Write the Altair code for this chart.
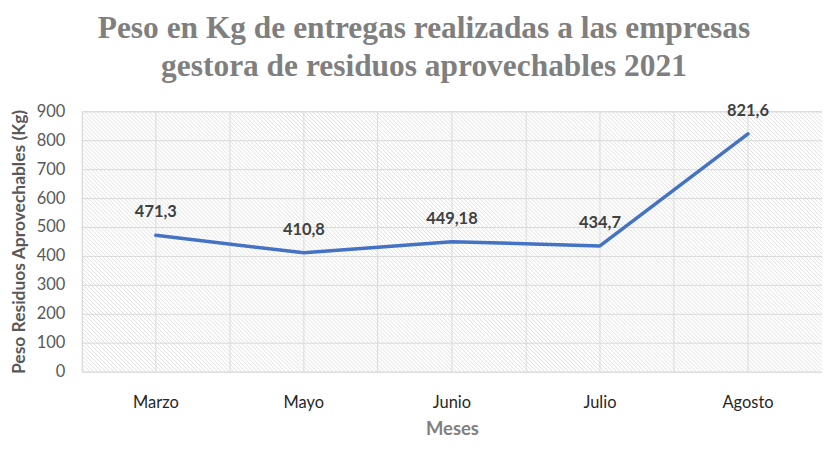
import altair as alt
import pandas as pd
import numpy as np

months = ["Marzo", "Mayo", "Junio", "Julio", "Agosto"]
weights = [471.3, 410.8, 449.18, 434.7, 821.6]
labels = ["471,3", "410,8", "449,18", "434,7", "821,6"]

W, H = 742, 261

df = pd.DataFrame({"Mes": months, "Peso": weights, "Etiqueta": labels})

# decorative diagonal hatch pattern for the plot background (pixel space)
starts = np.arange(-H, W + 4, 4)
hatch = pd.DataFrame({"x1": starts, "x2": starts + H, "y1": 0, "y2": H})

hatch_layer = alt.Chart(hatch).mark_rule(color="#dcdcdc", strokeWidth=0.9, clip=True).encode(
    x=alt.X("x1:Q", scale=None, axis=None),
    x2="x2:Q",
    y=alt.Y("y1:Q", scale=None, axis=None),
    y2="y2:Q",
)

x_enc = alt.X(
    "Mes:N",
    sort=months,
    scale=alt.Scale(type="band", paddingInner=0, paddingOuter=0),
    axis=alt.Axis(
        title="Meses",
        labelAngle=0,
        labelFont="Lato",
        labelFontSize=16.5,
        labelColor="#262626",
        labelPadding=23,
        ticks=False,
        domain=False,
        grid=True,
        gridColor="#d9d9d9",
        bandPosition=0,
        titleFont="Lato",
        titleFontSize=18.5,
        titleFontWeight="bold",
        titleColor="#7f7f7f",
        titlePadding=9,
    ),
)
y_enc = alt.Y(
    "Peso:Q",
    scale=alt.Scale(domain=[0, 900], nice=False),
    axis=alt.Axis(
        title="Peso Residuos Aprovechables (Kg)",
        values=list(range(0, 901, 100)),
        labelFont="Lato",
        labelFontSize=16.5,
        labelColor="#595959",
        labelPadding=17,
        ticks=False,
        domain=False,
        grid=True,
        gridColor="#d9d9d9",
        titleFont="Lato",
        titleFontSize=17.5,
        titleFontWeight="bold",
        titleColor="#595959",
        titlePadding=8,
    ),
)

base = alt.Chart(df)

vgrid = base.mark_rule(color="#d9d9d9", strokeWidth=1).encode(x=x_enc)

line = base.mark_line(color="#4472c4", strokeWidth=3.5, strokeCap="round", strokeJoin="round").encode(
    x=x_enc, y=y_enc
)

text = base.mark_text(
    font="Lato", fontSize=16.5, fontWeight="bold", color="#404040", dy=-23
).encode(x=x_enc, y=y_enc, text="Etiqueta:N")

main = alt.layer(vgrid, line, text)

chart = (
    alt.layer(hatch_layer, main)
    .resolve_scale(x="independent", y="independent")
    .properties(
        width=W,
        height=H,
        autosize=alt.AutoSizeParams(type="none"),
        padding={"left": 74, "top": 103, "right": 0, "bottom": 70},
        title=alt.TitleParams(
            text=["Peso en Kg de entregas realizadas a las empresas",
                  "gestora de residuos aprovechables 2021"],
            font="Liberation Serif",
            fontSize=31.5,
            fontWeight="bold",
            color="#7f7f7f",
            anchor="middle",
            dx=-28,
            lineHeight=38,
            offset=21,
        ),
    )
    .configure_view(stroke="#d9d9d9", fill="white")
    .configure(background="white")
)

chart.save("out.html", embed_options={"renderer": "svg", "actions": False})
